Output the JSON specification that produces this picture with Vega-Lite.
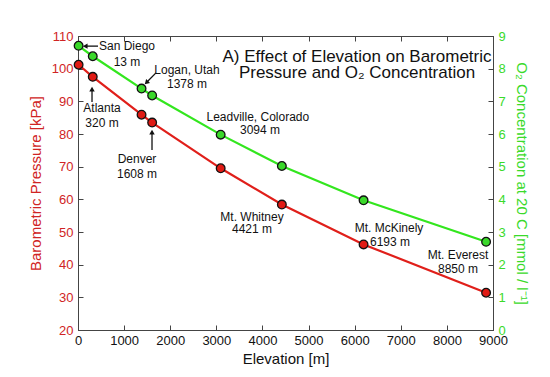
{
  "$schema": "https://vega.github.io/schema/vega-lite/v6.json",
  "width": 415,
  "height": 294,
  "autosize": {"type": "none"},
  "padding": {"left": 78, "top": 36, "right": 57, "bottom": 47},
  "background": "white",
  "config": {
    "font": "Liberation Sans",
    "view": {"stroke": "#444", "strokeWidth": 1},
    "axis": {"grid": false, "domainColor": "#444", "tickColor": "#444", "labelFont": "Liberation Sans", "titleFont": "Liberation Sans", "titleFontWeight": "normal", "labelFontSize": 13, "titleFontSize": 15, "labelOverlap": false, "labelFlush": false}
  },
  "datasets": {
    "sites": [
      {"x": 13, "p": 101.2, "o2": 8.70},
      {"x": 320, "p": 97.5, "o2": 8.38},
      {"x": 1378, "p": 85.9, "o2": 7.39},
      {"x": 1608, "p": 83.5, "o2": 7.18},
      {"x": 3094, "p": 69.5, "o2": 5.98},
      {"x": 4421, "p": 58.4, "o2": 5.02},
      {"x": 6193, "p": 46.2, "o2": 3.97},
      {"x": 8850, "p": 31.4, "o2": 2.70}
    ],
    "labels": [
      {"text": "San Diego", "x": 1063, "p": 106.9},
      {"text": "13 m", "x": 1063, "p": 102.0},
      {"text": "Atlanta", "x": 520, "p": 88.0},
      {"text": "320 m", "x": 520, "p": 83.4},
      {"text": "Logan, Utah", "x": 2364, "p": 99.6},
      {"text": "1378 m", "x": 2364, "p": 95.3},
      {"text": "Leadville, Colorado", "x": 3900, "p": 85.2},
      {"text": "3094 m", "x": 3947, "p": 81.2},
      {"text": "Denver", "x": 1280, "p": 72.3},
      {"text": "1608 m", "x": 1280, "p": 67.8},
      {"text": "Mt. Whitney", "x": 3773, "p": 54.6},
      {"text": "4421 m", "x": 3773, "p": 50.9},
      {"text": "Mt. McKinely", "x": 6745, "p": 51.2},
      {"text": "6193 m", "x": 6766, "p": 46.9},
      {"text": "Mt. Everest", "x": 8241, "p": 43.0},
      {"text": "8850 m", "x": 8241, "p": 38.7}
    ],
    "title": [
      {"text": "A) Effect of Elevation on Barometric", "x": 6051, "p": 103.6},
      {"text": "Pressure and O₂ Concentration", "x": 6051, "p": 98.7}
    ],
    "arrows": [
      {"x2": 434, "p2": 106.9, "x": 173, "p": 106.9, "ang": 270},
      {"x2": 304, "p2": 89.8, "x": 304, "p": 93.5, "ang": 0},
      {"x2": 1605, "p2": 75.1, "x": 1605, "p": 80.3, "ang": 0},
      {"x2": 1691, "p2": 98.7, "x": 1496, "p": 95.9, "ang": 225}
    ]
  },
  "resolve": {"scale": {"y": "independent"}, "axis": {"x": "independent"}},
  "layer": [
    {
      "encoding": {
        "x": {"field": "x", "type": "quantitative", "scale": {"domain": [0, 9000], "nice": false},
          "axis": {"orient": "bottom", "title": "Elevation [m]", "values": [0,1000,2000,3000,4000,5000,6000,7000,8000,9000], "format": "d", "tickSize": -5, "labelPadding": 9, "labelColor": "#111", "titleColor": "#111", "titlePadding": 4}},
        "y": {"field": "p", "type": "quantitative", "scale": {"domain": [20, 110], "nice": false, "zero": false},
          "axis": {"orient": "left", "title": "Barometric Pressure [kPa]", "values": [20,30,40,50,60,70,80,90,100,110], "tickCount": 10, "tickSize": -5, "labelPadding": 10, "labelColor": "#d02424", "titleColor": "#d02424", "titlePadding": 8}}
      },
      "layer": [
        {
          "data": {"name": "sites"},
          "mark": {"type": "line", "color": "#e01f1a", "strokeWidth": 2.2}
        },
        {
          "data": {"name": "sites"},
          "mark": {"type": "point", "filled": true, "fill": "#e01a14", "stroke": "#111", "strokeWidth": 1.3, "size": 75, "opacity": 1}
        },
        {
          "data": {"name": "labels"},
          "mark": {"type": "text", "fontSize": 12, "color": "#111", "align": "center", "baseline": "middle"},
          "encoding": {"text": {"field": "text"}}
        },
        {
          "data": {"name": "title"},
          "mark": {"type": "text", "fontSize": 17, "color": "#111", "align": "center", "baseline": "middle"},
          "encoding": {"text": {"field": "text"}}
        },
        {
          "data": {"name": "arrows"},
          "mark": {"type": "rule", "color": "#111", "strokeWidth": 1.3},
          "encoding": {
            "x2": {"field": "x2"},
            "y2": {"field": "p2"}
          }
        },
        {
          "data": {"name": "arrows"},
          "mark": {"type": "point", "shape": "triangle", "filled": true, "color": "#111", "size": 30, "opacity": 1},
          "encoding": {
            "angle": {"field": "ang", "type": "quantitative", "scale": null}
          }
        }
      ]
    },
    {
      "data": {"name": "sites"},
      "encoding": {
        "x": {"field": "x", "type": "quantitative", "scale": {"domain": [0, 9000], "nice": false},
          "axis": {"orient": "top", "title": null, "labels": false, "values": [0,1000,2000,3000,4000,5000,6000,7000,8000,9000], "tickSize": -5}},
        "y": {"field": "o2", "type": "quantitative", "scale": {"domain": [0, 9], "nice": false},
          "axis": {"orient": "right", "title": "O₂ Concentration at 20 C [mmol / l⁻¹]", "values": [0,1,2,3,4,5,6,7,8,9], "tickCount": 10, "tickSize": -5, "labelPadding": 10, "labelColor": "#3ada2a", "titleColor": "#3ada2a", "titlePadding": 8}}
      },
      "layer": [
        {
          "mark": {"type": "line", "color": "#33e61e", "strokeWidth": 2.2}
        },
        {
          "mark": {"type": "point", "filled": true, "fill": "#3ad82a", "stroke": "#111", "strokeWidth": 1.3, "size": 75, "opacity": 1}
        }
      ]
    }
  ]
}
